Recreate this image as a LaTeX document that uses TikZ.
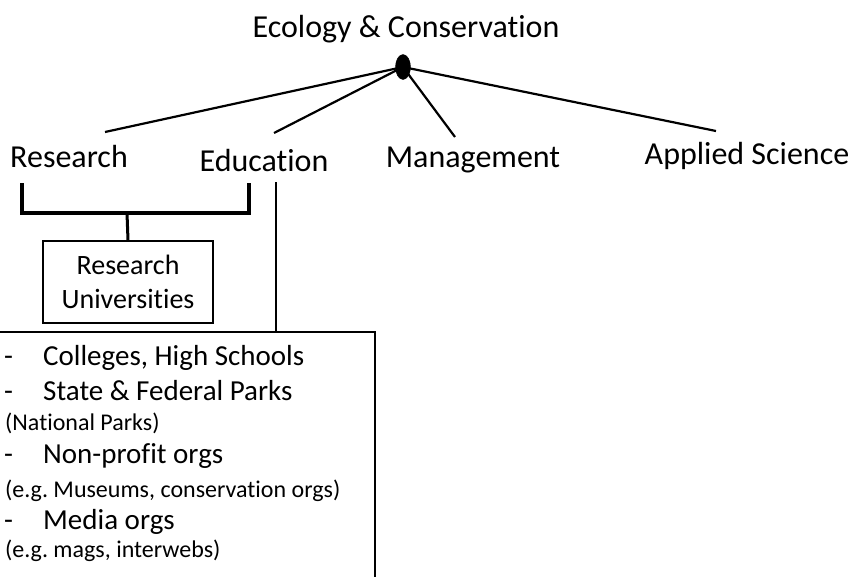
\documentclass[tikz,border=0pt]{standalone}
\usepackage{fontspec}
\setmainfont[Ligatures=NoCommon]{Carlito}
\usetikzlibrary{shapes.geometric}
\frenchspacing
\begin{document}
\begin{tikzpicture}[x=1pt,y=-1pt,
  conn/.style={line width=2.2pt},
  brk/.style={line width=3.8pt},
  lbl/.style={inner sep=0pt,anchor=base,font=\fontsize{32}{38}\selectfont},
  item/.style={inner sep=0pt,anchor=base west,font=\fontsize{29}{34}\selectfont},
  sub/.style={inner sep=0pt,anchor=base west,font=\fontsize{24}{28}\selectfont}]
\useasboundingbox (0,0) rectangle (853,576);
% title and hub
\node[lbl] (title) at (406,37) {Ecology \& Conservation};
\node[draw,fill=black,ellipse,minimum width=15pt,minimum height=25pt,inner sep=0pt] (hub) at (403,67) {};
% category labels
\node[lbl] (res) at (69,167) {Research};
\node[lbl] (edu) at (264,171) {Education};
\node[lbl] (man) at (473,167) {Management};
\node[lbl] (app) at (747,164) {Applied Science};
\coordinate (rEnd) at (105,132);
\coordinate (eEnd) at (274,133);
\coordinate (mEnd) at (455,137);
\coordinate (aEnd) at (716,131);
\draw[conn] (hub.center) -- (rEnd);
\draw[conn] (hub.center) -- (eEnd);
\draw[conn] (hub.center) -- (mEnd);
\draw[conn] (hub.center) -- (aEnd);
% research bracket
\coordinate (b1) at (22,183);
\coordinate (b2) at (22,213);
\coordinate (b3) at (249,213);
\coordinate (b4) at (249,183);
\coordinate (bm) at (127,213);
\draw[brk,line join=miter] (b1) -- (b2) -- (b3) -- (b4);
\node[draw,line width=1.8pt,minimum width=170pt,minimum height=82pt,inner sep=0pt,align=center,
  font=\fontsize{28}{34}\selectfont] (ru) at (128,282) {Research\\Universities};
\draw[line width=3pt] (bm) -- (ru.north);
% education line and box
\coordinate (e1) at (276,182);
\coordinate (e2) at (276,332);
\draw[conn] (e1) -- (e2);
\coordinate (bx1) at (0,332);
\coordinate (bx2) at (375,332);
\coordinate (bx3) at (375,580);
\draw[line width=1.8pt] (bx1) -- (bx2) -- (bx3);
% items
\node[item] (d1) at (4,365) {-};
\node[item] (t1) at (43,365) {Colleges, High Schools};
\node[item] (d2) at (4,400) {-};
\node[item] (t2) at (43,400) {State \& Federal Parks};
\node[sub] (s2) at (5,430) {(National Parks)};
\node[item] (d3) at (4,463) {-};
\node[item] (t3) at (43,463) {Non-profit orgs};
\node[sub] (s3) at (5,497) {(e.g. Museums, conservation orgs)};
\node[item] (d4) at (4,529) {-};
\node[item] (t4) at (43,529) {Media orgs};
\node[sub] (s4) at (5,557) {(e.g. mags, interwebs)};
\end{tikzpicture}
\end{document}
